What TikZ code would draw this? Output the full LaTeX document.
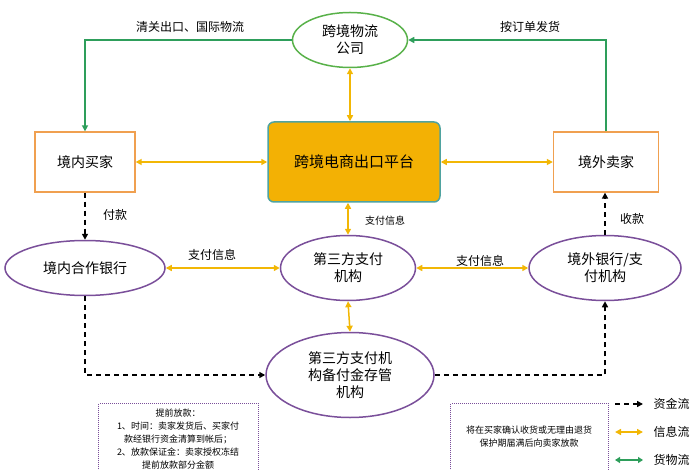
\documentclass[tikz,border=0pt]{standalone}
\usepackage{fontspec}
\setmainfont{Noto Sans CJK SC}
\usetikzlibrary{shapes.geometric,arrows.meta}
\definecolor{gr}{HTML}{2E9E5B}
\definecolor{yl}{HTML}{F2B705}
\definecolor{pu}{HTML}{7A4F9A}
\definecolor{og}{HTML}{F0A050}
\definecolor{tl}{HTML}{4FA3A0}
\begin{document}
\begin{tikzpicture}[x=1pt,y=-1pt,
 ell/.style={ellipse,draw=pu,line width=1.5pt,fill=white,align=center,font=\fontsize{14}{17}\selectfont,inner sep=0pt},
 box/.style={draw=og,line width=1.3pt,fill=white,minimum width=100pt,minimum height=60pt,font=\fontsize{14}{17}\selectfont},
 ga/.style={draw=gr,line width=1.5pt,-{Triangle[length=6pt,width=6pt]}},
 ya/.style={draw=yl,line width=1.5pt,{Triangle[length=6pt,width=6pt]}-{Triangle[length=6pt,width=6pt]}},
 ba/.style={draw=black,line width=1.5pt,dash pattern=on 5pt off 4pt,-{Triangle[length=6pt,width=6pt]}},
 lab/.style={font=\fontsize{12}{14}\selectfont},
 note/.style={draw=pu,densely dotted,line width=1pt,font=\fontsize{8}{11}\selectfont,align=center}]
\useasboundingbox (0,0) rectangle (700,470);
\node[ell,draw=gr!80!yellow,minimum width=115pt,minimum height=55pt] (wl) at (350,40) {跨境物流\\公司};
\node[draw=tl,line width=1.5pt,fill=yl!90!orange,rounded corners=6pt,minimum width=172pt,minimum height=80pt,font=\fontsize{15}{18}\selectfont] (pt) at (354,162) {跨境电商出口平台};
\node[box] (mj) at (85,162) {境内买家};
\node[box,minimum width=105pt] (mw) at (606,162) {境外卖家};
\node[ell,minimum width=160pt,minimum height=55pt] (yh) at (85,268) {境内合作银行};
\node[ell,minimum width=135pt,minimum height=65pt] (sf) at (348,268) {第三方支付\\机构};
\node[ell,minimum width=152pt,minimum height=65pt] (wy) at (605,268) {境外银行/支\\付机构};
\node[ell,minimum width=168pt,minimum height=85pt] (bf) at (350,375) {第三方支付机\\构备付金存管\\机构};
% green
\draw[ga] (wl.west) -| (mj.north);
\draw[ga] (mw.north) |- (wl.east);
\node[lab] at (190,27) {清关出口、国际物流};
\node[lab] at (530,27) {按订单发货};
% yellow
\draw[ya] (wl.south) -- (pt.north -| wl.south);
\draw[ya] (mj.east) -- (pt.west);
\draw[ya] (pt.east) -- (mw.west);
\draw[ya] (pt.south -| sf.north) -- (sf.north);
\draw[ya] (yh.east) -- (sf.west);
\draw[ya] (sf.east) -- (wy.west);
\draw[ya] (sf.south) -- (bf.north);
\node[font=\fontsize{10}{12}\selectfont] at (385,221) {支付信息};
\node[lab] at (212,255) {支付信息};
\node[lab] at (480,261) {支付信息};
% black
\draw[ba] (mj.south) -- (yh.north -| mj.south);
\node[lab] at (115,215) {付款};
\draw[ba] (wy.north) -- (mw.south -| wy.north);
\node[lab] at (632,219) {收款};
\draw[ba] (yh.south) |- (bf.west);
\draw[ba] (bf.east) -| (wy.south);
% notes
\node[note,minimum width=160pt,minimum height=80pt,anchor=north west] (n1) at (98,403) {};
\node[font=\fontsize{9}{13}\selectfont,align=center,anchor=north] (t1) at (178,405) {提前放款：\\1、时间：卖家发货后、买家付\\款经银行资金清算到帐后；\\2、放款保证金：卖家授权冻结\\提前放款部分金额};
\node[note,minimum width=158pt,minimum height=80pt,anchor=north west] (n2) at (450,403) {};
\node[font=\fontsize{9}{13}\selectfont,align=center] (t2) at (529,437) {将在买家确认收货或无理由退货\\保护期届满后向卖家放款};
% legend
\coordinate (l1a) at (615,404); \coordinate (l1b) at (643,404);
\coordinate (l2a) at (615,432); \coordinate (l2b) at (643,432);
\coordinate (l3a) at (615,460); \coordinate (l3b) at (643,460);
\draw[ba] (l1a) -- (l1b);
\draw[ya] (l2a) -- (l2b);
\draw[draw=gr,line width=1.5pt,{Triangle[length=5pt,width=6pt]}-{Triangle[length=5pt,width=6pt]}] (l3a) -- (l3b);
\node[lab,anchor=west] at (650,404) {资金流};
\node[lab,anchor=west] at (650,432) {信息流};
\node[lab,anchor=west] at (650,460) {货物流};
\end{tikzpicture}
\end{document}
